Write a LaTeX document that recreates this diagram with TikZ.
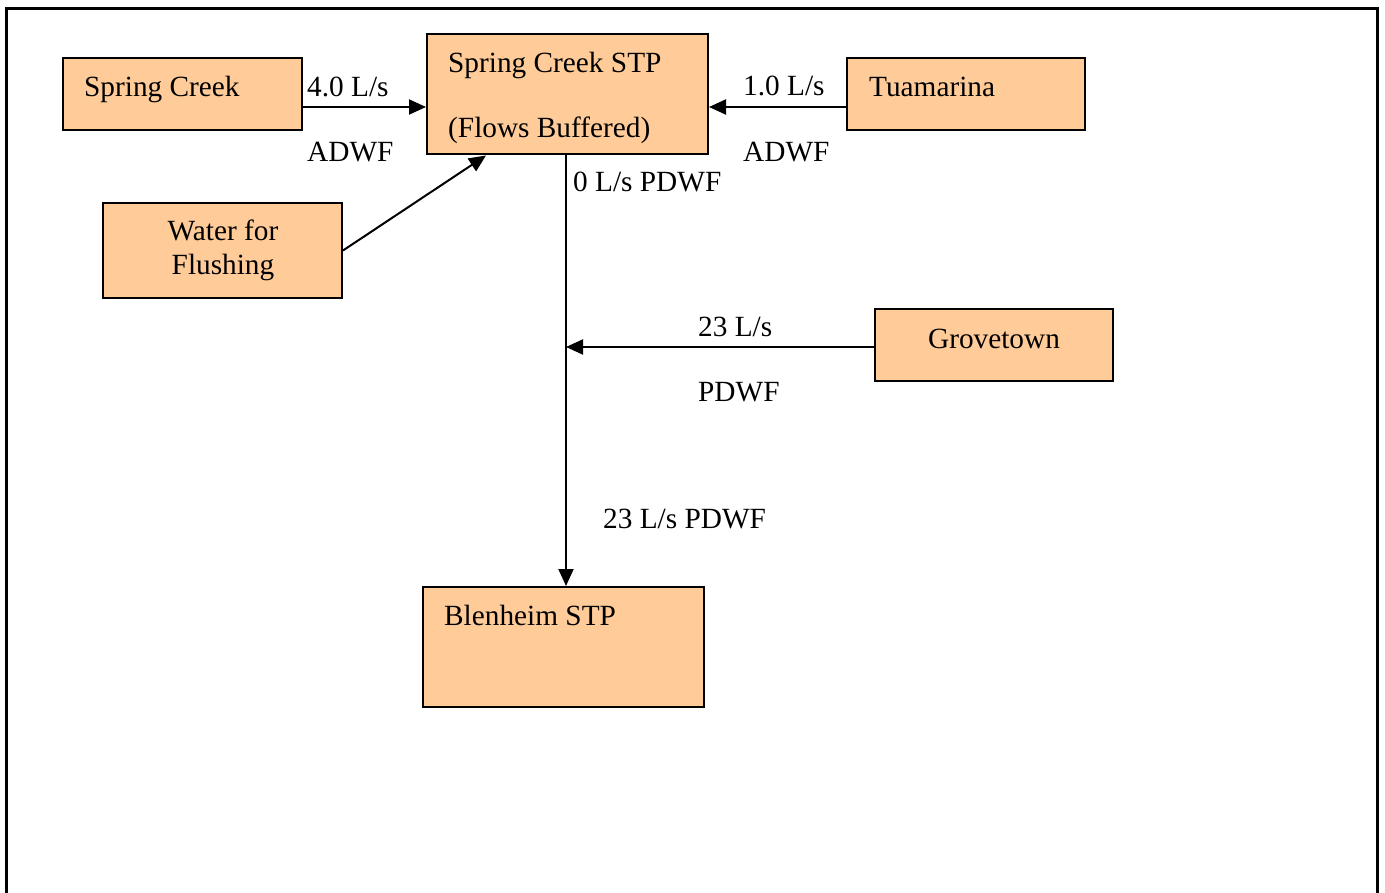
\documentclass[tikz,border=0pt]{standalone}
\usepackage{fontspec}
\setmainfont{Liberation Serif}
\usetikzlibrary{arrows.meta}
\definecolor{peach}{HTML}{FFCC99}
\tikzset{
  box/.style={draw=black, line width=2pt, fill=peach, rectangle, inner sep=0pt},
  txt/.style={anchor=base west, inner sep=0pt, font=\fontsize{29.3}{35}\selectfont},
  ctxt/.style={anchor=base, inner sep=0pt, font=\fontsize{29.3}{35}\selectfont, align=center},
  conn/.style={draw=black, line width=2pt},
  arr/.style={conn, -{Triangle[length=17pt,width=15pt]}}
}
\begin{document}
\begin{tikzpicture}[x=1pt,y=-1pt]
\useasboundingbox (0,0) rectangle (1385,893);
\clip (0,0) rectangle (1385,893);
\draw[line width=3pt] (6,905) -- (6,9) -- (1377,9) -- (1377,905);
% boxes
\node[box, minimum width=239pt, minimum height=72pt] (sc) at (182.5,94) {};
\node[box, minimum width=281pt, minimum height=120pt] (stp) at (567.5,94.5) {};
\node[box, minimum width=238pt, minimum height=72pt] (tua) at (966,94) {};
\node[box, minimum width=239pt, minimum height=95pt] (wf) at (222.5,250.5) {};
\node[box, minimum width=238pt, minimum height=72pt] (gt) at (994,345) {};
\node[box, minimum width=281pt, minimum height=120pt] (bl) at (563.5,647) {};
% box texts
\node[txt] (tsc) at (84,97) {Spring Creek};
\node[txt] (tstp1) at (448,73) {Spring Creek STP};
\node[txt] (tstp2) at (448,138) {(Flows Buffered)};
\node[txt] (ttua) at (869,97) {Tuamarina};
\node[ctxt] (twf1) at (223,241) {Water for};
\node[ctxt] (twf2) at (223,275) {Flushing};
\node[ctxt] (tgt) at (994,349) {Grovetown};
\node[txt] (tbl) at (444,625) {Blenheim STP};
% connectors
\coordinate (vtop) at (566,155);
\draw[arr] ([yshift=-13pt]sc.east) -- ([yshift=-13pt]sc.east -| stp.west);
\draw[arr] ([yshift=-13pt]tua.west) -- ([yshift=-13pt]tua.west -| stp.east);
\draw[arr] (wf.east) -- ([xshift=60pt]stp.south west);
\draw[arr] (vtop) -- (vtop |- bl.north);
\draw[arr] ([yshift=-2pt]gt.west) -- ([yshift=-2pt]gt.west -| vtop);
% labels
\node[txt] (l1) at (307,97) {4.0 L/s};
\node[txt] (l2) at (307,162) {ADWF};
\node[txt] (l3) at (743,96) {1.0 L/s};
\node[txt] (l4) at (743,162) {ADWF};
\node[txt] (l5) at (573,192) {0 L/s PDWF};
\node[txt] (l6) at (698,337) {23 L/s};
\node[txt] (l7) at (698,402) {PDWF};
\node[txt] (l8) at (603,528) {23 L/s PDWF};
\end{tikzpicture}
\end{document}
